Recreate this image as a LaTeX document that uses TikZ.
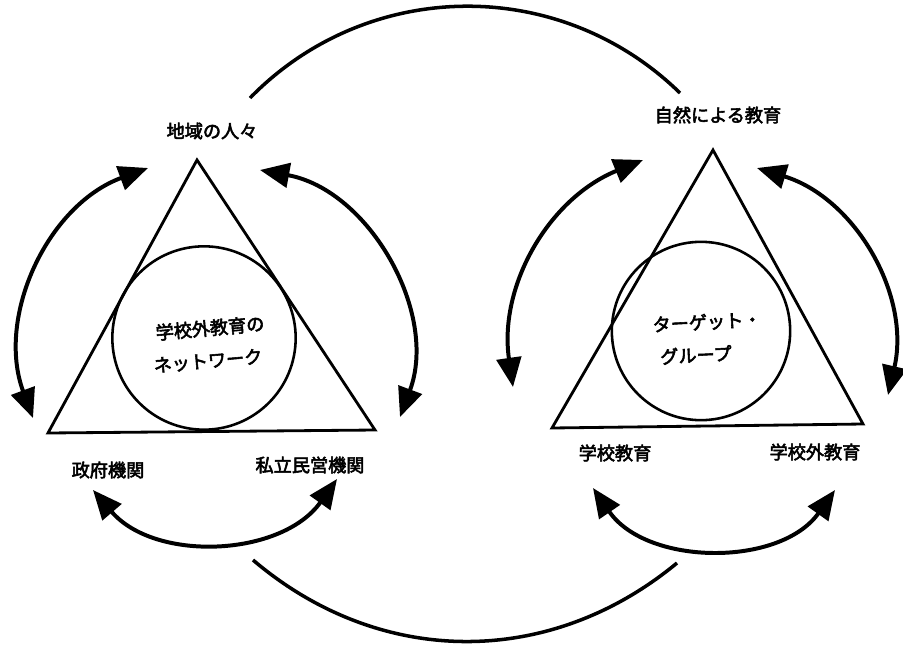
\documentclass[tikz,border=0pt]{standalone}
\usepackage{fontspec}
\newfontfamily\jp[FakeBold=3]{Noto Sans CJK JP}
\usetikzlibrary{arrows.meta}

\begin{document}
\begin{tikzpicture}[x=0.03cm,y=-0.03cm,
  tri/.style={draw,line width=2.4pt,line join=miter},
  ring/.style={draw,circle,line width=2.2pt,inner sep=0pt},
  lbl/.style={font=\jp\fontsize{15.5}{18}\selectfont,inner sep=1pt},
  inlbl/.style={lbl,rotate=5},
  arr/.style={{Triangle[length=25pt,width=21pt]}-{Triangle[length=25pt,width=21pt]},line width=3.4pt},
  link/.style={line width=3pt}
]
\useasboundingbox (0,0) rectangle (903,645);

% left triangle
\coordinate (la) at (197,160);
\coordinate (lb) at (48,433);
\coordinate (lc) at (375,430);
\draw[tri] (la) -- (lb) -- (lc) -- cycle;
\node[ring,minimum size=5.5cm] (lnet) at (204,338) {};
\node[inlbl] (lnet1) at (210,328) {学校外教育の};
\node[inlbl] (lnet2) at (208,361) {ネットワーク};
\node[lbl] (people) at (212,131) {地域の人々};
\node[lbl] (gov) at (108,470) {政府機関};
\node[lbl] (priv) at (310,465) {私立民営機関};

% right triangle
\coordinate (ra) at (713,150);
\coordinate (rb) at (552,428);
\coordinate (rc) at (863,424);
\draw[tri] (ra) -- (rb) -- (rc) -- cycle;
\node[ring,minimum size=5.35cm] (rtgt) at (701,331) {};
\node[lbl,rotate=3] (rtgt1) at (707,322) {ターゲット・};
\node[lbl,rotate=3] (rtgt2) at (696,355) {グループ};
\node[lbl] (nature) at (718,115) {自然による教育};
\node[lbl] (school) at (615,453) {学校教育};
\node[lbl] (outside) at (815,452) {学校外教育};

% arrow ends
\coordinate (p1) at (148,168);
\coordinate (p2) at (33,418);
\coordinate (p3) at (260,170);
\coordinate (p4) at (400,417);
\coordinate (p5) at (93,490);
\coordinate (p6) at (337,479);
\coordinate (p7) at (643,160);
\coordinate (p8) at (513,387);
\coordinate (p9) at (757,168);
\coordinate (p10) at (888,395);
\coordinate (p11) at (593,488);
\coordinate (p12) at (835,490);
\coordinate (t1) at (250,98);
\coordinate (t2) at (680,93);
\coordinate (b1) at (253,560);
\coordinate (b2) at (677,563);

\draw[arr] (p1) to[bend right=45] (p2);
\draw[arr] (p3) to[bend left=50] (p4);
\draw[arr] (p5) to[bend right=52] (p6);
\draw[arr] (p7) to[bend right=38] (p8);
\draw[arr] (p9) to[bend left=43] (p10);
\draw[arr] (p11) to[bend right=55] (p12);
\draw[link] (t1) to[bend left=45] (t2);
\draw[link] (b1) to[bend right=40] (b2);
\end{tikzpicture}
\end{document}
